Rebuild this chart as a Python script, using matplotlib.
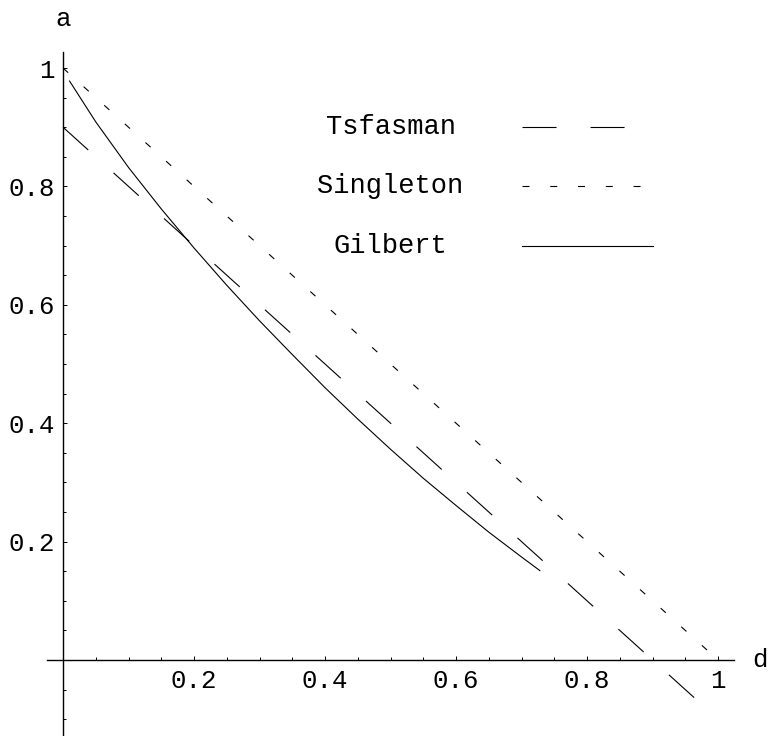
import numpy as np
import matplotlib
matplotlib.use("Agg")
import matplotlib.pyplot as plt
from matplotlib.ticker import FixedLocator, FixedFormatter

# data
tsfasman_d = [0.0, 0.968]
tsfasman_a = [0.9, -0.068]

singleton_d = [0.0, 1.0]
singleton_a = [1.0, 0.0]

gilbert_d = [0.01, 0.05, 0.10, 0.15, 0.20, 0.25, 0.30, 0.35, 0.40,
             0.45, 0.50, 0.55, 0.60, 0.65, 0.70, 0.728]
gilbert_a = [0.978, 0.909, 0.832, 0.762, 0.696, 0.633, 0.573, 0.516, 0.460,
             0.407, 0.356, 0.307, 0.261, 0.216, 0.174, 0.151]

legend_labels = ["Tsfasman", "Singleton", "Gilbert"]

xtick_vals = [0.2, 0.4, 0.6, 0.8, 1.0]
xtick_labels = ["0.2", "0.4", "0.6", "0.8", "1"]
ytick_vals = [0.2, 0.4, 0.6, 0.8, 1.0]
ytick_labels = ["0.2", "0.4", "0.6", "0.8", "1"]

plt.rcParams['font.family'] = ['Liberation Mono', 'DejaVu Sans Mono']
plt.rcParams['lines.scale_dashes'] = False

fig = plt.figure(figsize=(7.72, 7.36), dpi=100)
ax = fig.add_axes([0, 0, 1, 1])
ax.set_xlim(-0.0962, 1.0824)
ax.set_ylim(-0.1284, 1.1149)

lw = 0.8
long_dash = (0, (24.5, 24.5))
short_dash = (0, (5, 15))

ax.plot(tsfasman_d, tsfasman_a, color='black', lw=lw, linestyle=long_dash)
ax.plot(singleton_d, singleton_a, color='black', lw=lw, linestyle=short_dash)
ax.plot(gilbert_d, gilbert_a, color='black', lw=lw)

# legend drawn like the original: centred text, sample line to the right
styles = [long_dash, short_dash, '-']
for i, (lab, ls) in enumerate(zip(legend_labels, styles)):
    y = 0.9 - 0.1 * i
    ax.text(0.5, y, lab, ha='center', va='center', fontsize=19.5)
    ax.plot([0.7, 0.9], [y, y], color='black', lw=lw, linestyle=ls)

# axes through the origin
for s in ['top', 'right']:
    ax.spines[s].set_visible(False)
ax.spines['left'].set_position(('data', 0))
ax.spines['bottom'].set_position(('data', 0))
ax.spines['bottom'].set_bounds(-0.024, 1.025)
ax.spines['left'].set_bounds(-0.13, 1.027)
ax.spines['left'].set_linewidth(1.0)
ax.spines['bottom'].set_linewidth(1.0)

ax.xaxis.set_major_locator(FixedLocator(xtick_vals))
ax.xaxis.set_major_formatter(FixedFormatter(xtick_labels))
ax.yaxis.set_major_locator(FixedLocator(ytick_vals))
ax.yaxis.set_major_formatter(FixedFormatter(ytick_labels))
ax.xaxis.set_minor_locator(FixedLocator(np.arange(0.05, 1.0, 0.05)))
ax.yaxis.set_minor_locator(FixedLocator(np.arange(-0.1, 1.0, 0.05)))

ax.tick_params(which='both', direction='in', width=0.7, labelsize=18.5)
ax.tick_params(which='major', length=3.0)
ax.tick_params(which='minor', length=2.2)
ax.tick_params(axis='x', pad=6.5)
ax.tick_params(axis='y', pad=5.8)

ax.text(0.0, 1.083, "a", ha='center', va='center', fontsize=18.5)
ax.text(1.064, 0.0, "d", ha='center', va='center', fontsize=18.5)

fig.savefig("out.png", dpi=100)
